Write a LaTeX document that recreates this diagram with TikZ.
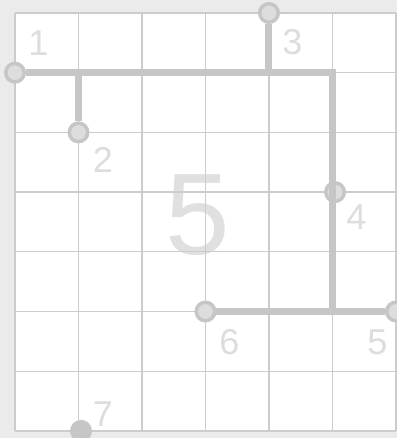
\documentclass[tikz,border=0pt]{standalone}
\usepackage{fontspec}
\setmainfont{Liberation Sans}
\usepackage{tikz}
\usetikzlibrary{positioning}
\definecolor{pagegrey}{RGB}{235,235,235}
\definecolor{gridgrey}{RGB}{204,204,204}
\definecolor{wiregrey}{RGB}{198,198,198}
\definecolor{dotfill}{RGB}{221,221,221}
\definecolor{labgrey}{RGB}{221,221,221}
\definecolor{biggrey}{RGB}{224,224,224}

\begin{document}
\begin{tikzpicture}[x=63.5pt,y=-59.7pt,
  gridline/.style={draw=gridgrey,line width=1.3pt},
  wire/.style={draw=wiregrey,line width=7pt},
  dot/.style={circle,draw=wiregrey,fill=dotfill,line width=3.5pt,minimum size=18.5pt,inner sep=0pt},
  enddot/.style={circle,fill=wiregrey,minimum size=22pt,inner sep=0pt},
  num/.style={text=labgrey,inner sep=0pt,font=\fontsize{36}{36}\selectfont},
  bignum/.style={text=biggrey,inner sep=0pt,font=\fontsize{116}{116}\selectfont}]
\useasboundingbox[fill=pagegrey] (-0.236,-0.218) rectangle (6.016,7.119);
\fill[white] (0,0) rectangle (6,7);
\node[bignum] (big) at (2.882,3.392) {5};
\foreach \x in {0,...,6} \draw[gridline] (\x,0) -- (\x,7);
\foreach \y in {0,...,7} \draw[gridline] (0,\y) -- (6,\y);
% route corners and branch points
\coordinate (c1) at (5,1);
\coordinate (c2) at (5,5);
\coordinate (j2) at (1,1);
\coordinate (j3) at (4,1);
\node[dot] (pt1) at (0,1) {};
\node[dot] (pt2) at (1,2) {};
\node[dot] (pt3) at (4,0) {};
\node[dot] (pt4) at (5.04,3) {};
\node[dot] (pt5) at (6,5) {};
\node[dot] (pt6) at (3,5) {};
\node[enddot] (pt7) at (1.04,7) {};
\draw[wire] (pt1.east) -- (c1) -- (c2) -- (pt5.west);
\draw[wire] (j2) -- (pt2.north);
\draw[wire] (j3) -- (pt3.south);
\draw[wire] (pt6.east) -- (c2);
\node[num] (lab1) at (0.370,0.511) {1};
\node[num] (lab2) at (1.386,2.462) {2};
\node[num] (lab3) at (4.370,0.486) {3};
\node[num] (lab4) at (5.378,3.417) {4};
\node[num] (lab5) at (5.709,5.511) {5};
\node[num] (lab6) at (3.378,5.511) {6};
\node[num] (lab7) at (1.386,6.725) {7};
\end{tikzpicture}
\end{document}
